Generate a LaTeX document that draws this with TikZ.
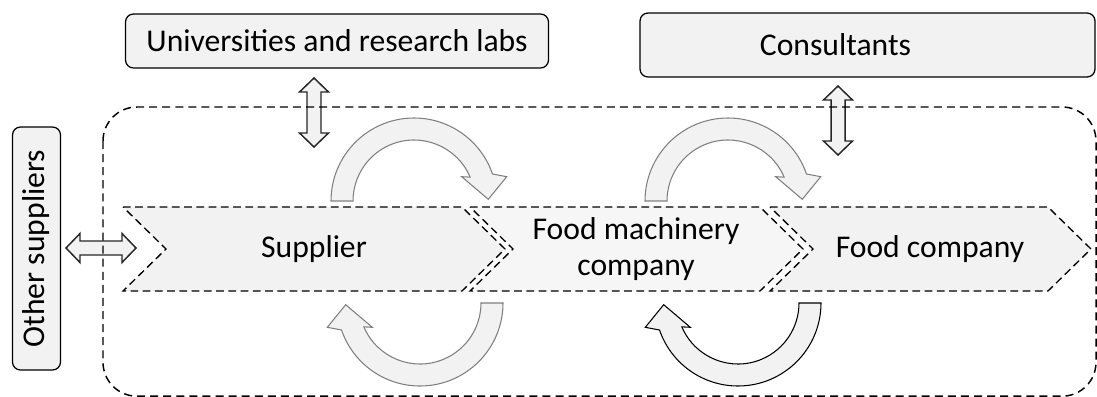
\documentclass[tikz,border=0pt]{standalone}
\usepackage{fontspec}
\setmainfont{Carlito}
\definecolor{fcfill}{HTML}{F2F2F2}
\definecolor{fclight}{HTML}{F6F6F6}
\definecolor{fcline}{HTML}{262626}
\definecolor{fcgrey}{HTML}{7F7F7F}
\newlength\pxu
\setlength\pxu{0.025cm}
\tikzset{
  box/.style={draw=black,fill=fcfill,rounded corners=0.2cm,line width=0.9pt,inner sep=2pt},
  chev/.style={draw=black,fill=#1,line width=0.95pt,dash pattern=on 5.5pt off 3.2pt},
  region/.style={draw=black,line width=1.05pt,dash pattern=on 5.7pt off 3.6pt,rounded corners=0.85cm},
  fat/.style={draw=fcline,fill=fcfill,line width=1.05pt,line join=miter},
  loopa/.style={draw=fcgrey,fill=fcfill,line width=0.75pt},
  loopb/.style={draw=black,fill=fcfill,line width=0.75pt},
  pics/dblarr/.style={code={
    \draw[fat] (0,0) -- (14,-14.5) -- (14,-7) -- (#1-14,-7) -- (#1-14,-14.5) -- (#1,0)
      -- (#1-14,14.5) -- (#1-14,7) -- (14,7) -- (14,14.5) -- cycle;}},
  pics/turn/.style={code={
    \draw[#1] (180:83) arc[start angle=180,end angle=341,radius=83] -- (92.7,-24.3)
      -- (74.3,-1.7) -- (47.7,-24.3) -- (337:61) arc[start angle=337,end angle=180,radius=61] -- cycle;}},
}
\begin{document}
\begin{tikzpicture}[x=0.025cm,y=-0.025cm,every node/.style={font=\fontsize{22.5}{25}\selectfont}]
  \useasboundingbox (0,0) rectangle (1097,396);
  \node[box,minimum width=423\pxu,minimum height=54\pxu] (uni) at (337,41) {Universities and research labs};
  \node[box,minimum width=455\pxu,minimum height=64\pxu] (cons) at (867.5,45) {Consultants\hspace*{64\pxu}};
  \node[box,rotate=90,minimum width=243\pxu,minimum height=48\pxu] (other) at (36.5,248.5) {Other suppliers};

  \pic at (66,248) {dblarr=70};
  \pic[rotate=-90] at (314,78) {dblarr=69};
  \pic[rotate=-90] at (838,86) {dblarr=69};
  \draw[region] (103,107) rectangle (1096,396.2);

  \foreach \a/\b/\f in {123/462/fcfill,470/760/fclight,770/1048/fcfill}
    \draw[chev=\f] (\a,207) -- (\b,207) -- (\b+43,249) -- (\b,291) -- (\a,291) -- (\a+43,249) -- cycle;
  \node (sup) at (314,249) {Supplier};
  \node[align=center] (mach) at (636,249) {Food machinery\\company};
  \node (food) at (930,249) {Food company};

  \pic at (414,201) {turn=loopa};
  \pic at (728,201) {turn=loopa};
  \pic[rotate=180] at (420,303) {turn=loopa};
  \pic[rotate=180] at (738,303) {turn=loopb};
\end{tikzpicture}
\end{document}
